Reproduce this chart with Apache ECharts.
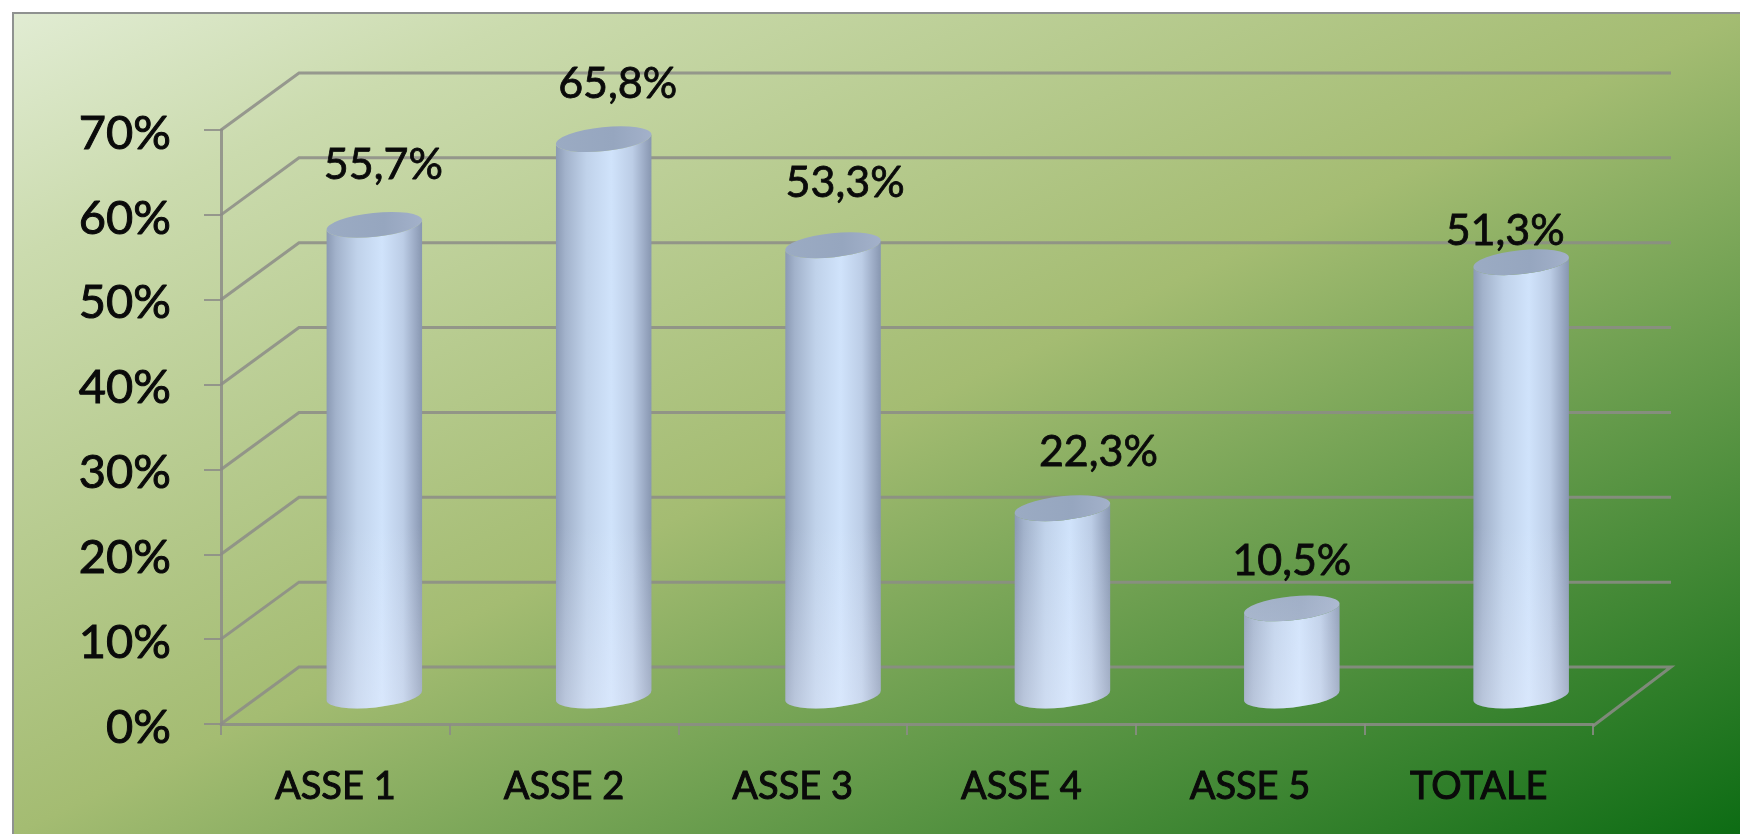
<!DOCTYPE html>
<html>
<head>
<meta charset="utf-8">
<title>ASSE</title>
<script src="https://cdn.jsdelivr.net/npm/echarts@6/dist/echarts.min.js"></script>
<style>
  html, body { margin: 0; padding: 0; background: #fff; }
  #main { width: 1740px; height: 834px; }
</style>
</head>
<body>
<div id="main"></div>
<script>
const categories = ['ASSE 1', 'ASSE 2', 'ASSE 3', 'ASSE 4', 'ASSE 5', 'TOTALE']
const percentValues = [55.7, 65.8, 53.3, 22.3, 10.5, 51.3]
const tickValues = [0, 10, 20, 30, 40, 50, 60, 70]

// 3d look of the wall behind the plot, in px
const DEPTH_X = 78
const DEPTH_Y = 57
const BAR_RX = 48
const BAR_RY = 12
const BAR_TILT = 6 // degrees
const BAR_DRIFT = 0.7 // bars sit a little wider apart than the categories
const GRID_COLOR = 'rgba(140,140,135,0.85)'
const TEXT_COLOR = '#0a0a0a'
const FONT = 'Lato'

// labels were placed by hand in the original chart, not centred on the bars
const labelShiftX = [9, 14, 12, 36, 0, -16]
const labelShiftY = [-60, -55, -62, -56, -47, -31]

function cylinderPaths (cx, topY, baseY) {
  let rad = BAR_TILT * Math.PI / 180
  let dx = BAR_RX * Math.cos(rad)
  let dy = BAR_RX * Math.sin(rad)
  let arc = 'A' + BAR_RX + ' ' + BAR_RY + ' ' + (-BAR_TILT) + ' 0 '
  let lx = cx - dx
  let rx = cx + dx
  let body = 'M' + lx + ' ' + (topY + dy) +
    ' L' + lx + ' ' + (baseY + dy) +
    ' ' + arc + '0 ' + rx + ' ' + (baseY - dy) +
    ' L' + rx + ' ' + (topY - dy) +
    ' ' + arc + '1 ' + lx + ' ' + (topY + dy) + ' Z'
  let top = 'M' + lx + ' ' + (topY + dy) +
    ' ' + arc + '1 ' + rx + ' ' + (topY - dy) +
    ' ' + arc + '1 ' + lx + ' ' + (topY + dy) + ' Z'
  let outline = 'M' + lx + ' ' + (topY + dy) +
    ' ' + arc + '1 ' + rx + ' ' + (topY - dy) +
    ' L' + rx + ' ' + (baseY - dy) +
    ' ' + arc + '1 ' + lx + ' ' + (baseY + dy) + ' Z'
  return { body, top, outline }
}

function renderWall (params, api) {
  let value = api.value(1)
  let cs = params.coordSys
  let y = api.coord([0, value])[1]
  let left = cs.x
  let right = cs.x + cs.width
  let points = [[left, y], [left + DEPTH_X, y - DEPTH_Y], [right + DEPTH_X, y - DEPTH_Y]]
  if (value === 0) {
    points.push([right, y + 2])
  }
  return {
    type: 'polyline',
    shape: { points },
    style: { stroke: GRID_COLOR, lineWidth: 3, fill: 'none' }
  }
}

function renderBar (params, api) {
  let idx = api.value(0)
  let value = api.value(1)
  let top = api.coord([idx, value])
  let base = api.coord([idx, 0])
  let cx = base[0] + DEPTH_X / 2 + idx * BAR_DRIFT
  let topY = top[1] - DEPTH_Y / 2 + 2
  let baseY = base[1] - DEPTH_Y / 2
  let paths = cylinderPaths(cx, topY, baseY)
  let text = value.toFixed(1).replace('.', ',') + '%'
  return {
    type: 'group',
    children: [
      {
        type: 'path',
        shape: { pathData: paths.body },
        style: {
          fill: {
            type: 'linear', x: 0, y: 0, x2: 1, y2: 0,
            colorStops: [
              { offset: 0, color: '#8a99b3' },
              { offset: 0.1, color: '#a2b2cb' },
              { offset: 0.32, color: '#c0d2ea' },
              { offset: 0.58, color: '#d0e3fb' },
              { offset: 0.8, color: '#bccde6' },
              { offset: 0.93, color: '#9aa9c3' },
              { offset: 1, color: '#8796b0' }
            ]
          }
        }
      },
      {
        type: 'path',
        shape: { pathData: paths.top },
        style: {
          fill: {
            type: 'linear', x: 0, y: 0, x2: 1, y2: 0,
            colorStops: [
              { offset: 0, color: '#9babc3' },
              { offset: 0.6, color: '#96a6bf' },
              { offset: 1, color: '#a3b1ca' }
            ]
          }
        }
      },
      {
        // pale reflection near the floor
        type: 'path',
        shape: { pathData: paths.outline },
        style: {
          fill: {
            type: 'linear', global: true,
            x: 0, y: baseY - 170, x2: 0, y2: baseY + 12,
            colorStops: [
              { offset: 0, color: 'rgba(235,240,255,0)' },
              { offset: 1, color: 'rgba(235,240,255,0.32)' }
            ]
          }
        }
      },
      {
        type: 'text',
        style: {
          text: text,
          x: cx + labelShiftX[idx],
          y: topY + labelShiftY[idx],
          textAlign: 'center',
          textVerticalAlign: 'middle',
          fontFamily: FONT,
          fontSize: 43,
          fill: TEXT_COLOR,
          stroke: TEXT_COLOR,
          lineWidth: 0.8
        }
      }
    ]
  }
}

// same gradient line as a box-scaled diagonal, so the mid tone runs corner to corner
function panelFill (x, y, w, h) {
  let k = w * h / (w * w + h * h)
  let cx = x + w / 2
  let cy = y + h / 2
  return {
    type: 'linear',
    global: true,
    x: cx - h * k,
    y: cy - w * k,
    x2: cx + h * k,
    y2: cy + w * k,
    colorStops: [
      { offset: 0, color: '#e1ecd3' },
      { offset: 0.15, color: '#cbdbae' },
      { offset: 0.5, color: '#a4bc72' },
      { offset: 1, color: '#0d6c14' }
    ]
  }
}

let myChart = echarts.init(document.getElementById('main'))
let option = {
  animation: false,
  backgroundColor: '#ffffff',
  graphic: [{
    type: 'rect',
    z: -10,
    shape: { x: 13, y: 13, width: 1740, height: 840 },
    style: { fill: panelFill(13, 13, 1727, 821), stroke: '#8f9290', lineWidth: 2 }
  }],
  grid: { left: 221, right: 147, top: 130, bottom: 110 },
  xAxis: {
    type: 'category',
    data: categories,
    offset: 2,
    axisLine: { lineStyle: { color: GRID_COLOR, width: 3 } },
    axisTick: { show: true, length: 11, alignWithLabel: false, lineStyle: { color: GRID_COLOR, width: 2 } },
    axisLabel: {
      margin: 42,
      color: TEXT_COLOR,
      fontFamily: FONT,
      fontSize: 38,
      textBorderColor: TEXT_COLOR,
      textBorderWidth: 1,
      interval: 0
    }
  },
  yAxis: {
    type: 'value',
    min: 0,
    max: 70,
    interval: 10,
    axisLine: { show: true, lineStyle: { color: GRID_COLOR, width: 3 } },
    axisTick: { show: true, length: 17, lineStyle: { color: GRID_COLOR, width: 2 } },
    axisLabel: {
      margin: 50,
      color: TEXT_COLOR,
      fontFamily: FONT,
      fontSize: 47,
      textBorderColor: TEXT_COLOR,
      textBorderWidth: 1,
      // small line box hung from the tick drops the text about 3px below it
      verticalAlign: 'top',
      lineHeight: 7,
      formatter: '{value}%'
    },
    splitLine: { show: false }
  },
  series: [
    {
      type: 'custom',
      z: 1,
      clip: false,
      silent: true,
      renderItem: renderWall,
      data: tickValues.map(function (t) { return [0, t] })
    },
    {
      type: 'custom',
      z: 3,
      clip: false,
      silent: true,
      renderItem: renderBar,
      data: percentValues.map(function (v, i) { return [i, v] })
    }
  ]
}
myChart.setOption(option)
</script>
</body>
</html>
